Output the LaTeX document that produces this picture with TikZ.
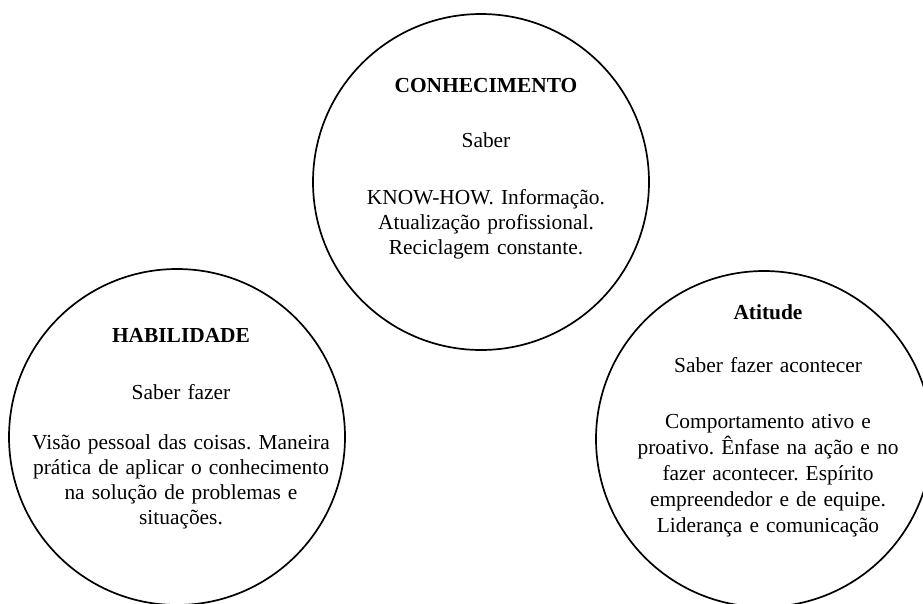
\documentclass[tikz,border=0pt]{standalone}
\usepackage{fontspec}
\setmainfont{Liberation Serif}
\frenchspacing
\begin{document}
\begin{tikzpicture}[x=1pt,y=-1pt,
  ring/.style={circle,draw=black,line width=1.7pt,inner sep=0pt,minimum size=336pt},
  txt/.style={anchor=base,inner sep=0pt,text width=330pt,align=center,font=\frenchspacing\fontsize{21.4}{25}\selectfont},
  ttl/.style={txt,font=\fontsize{21.4}{25}\selectfont\bfseries}]
\useasboundingbox (0,0) rectangle (923,603);
% circles
\node[ring] (cTop) at (481,182) {};
\node[ring] (cLeft) at (177,437) {};
\node[ring] (cRight) at (764,439) {};
% top circle text
\node[ttl] (tTitle) at (486,92) {CONHECIMENTO};
\node[txt] (tSub) at (486,147) {Saber};
\node[txt] (tBody) at (486,204) {KNOW-HOW. Informação.\\ Atualização profissional.\\ Reciclagem constante.};
% left circle text
\node[ttl] (lTitle) at (181,342) {HABILIDADE};
\node[txt] (lSub) at (181,399) {Saber fazer};
\node[txt] (lBody) at (181,449) {Visão pessoal das coisas. Maneira\\ prática de aplicar o conhecimento\\ na solução de problemas e\\ situações.};
% right circle text
\node[ttl] (rTitle) at (768,319) {Atitude};
\node[txt] (rSub) at (768,372) {Saber fazer acontecer};
\node[txt,font=\frenchspacing\fontsize{21.4}{26}\selectfont] (rBody) at (768,428) {Comportamento ativo e\\ proativo. Ênfase na ação e no\\ fazer acontecer. Espírito\\ empreendedor e de equipe.\\ Liderança e comunicação};
\end{tikzpicture}
\end{document}
